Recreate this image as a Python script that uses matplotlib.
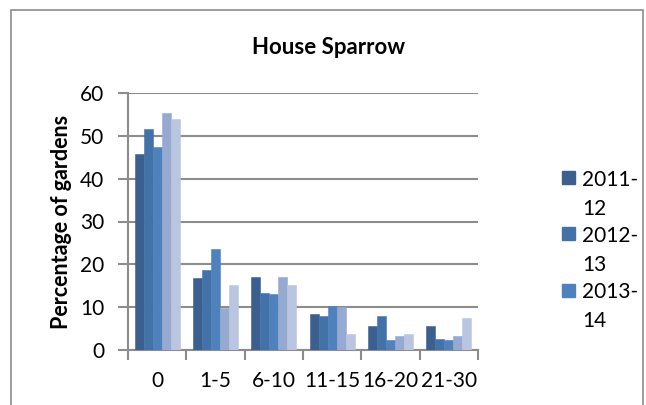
import matplotlib
matplotlib.use("Agg")
import matplotlib.pyplot as plt
from matplotlib.patches import Rectangle
import numpy as np

plt.rcParams['font.family'] = ['Lato', 'DejaVu Sans']

categories = ["0", "1-5", "6-10", "11-15", "16-20", "21-30"]
series_names = ["2011-12", "2012-13", "2013-14", "2014-15", "2015-16"]
s2011 = [45.7, 16.9, 17.0, 8.4, 5.5, 5.5]
s2012 = [51.5, 18.7, 13.4, 7.9, 7.9, 2.6]
s2013 = [47.4, 23.5, 13.0, 10.3, 2.4, 2.4]
s2014 = [55.3, 9.9, 17.0, 10.0, 3.2, 3.2]
s2015 = [53.9, 15.2, 15.2, 3.7, 3.7, 7.5]
values = [s2011, s2012, s2013, s2014, s2015]
colors = ["#3B5F8E", "#4372A8", "#4F81BD", "#95A9D1", "#BAC6E0"]
legend_lines = [["2011-", "12"], ["2012-", "13"], ["2013-", "14"]]

W, H = 646, 405
fig = plt.figure(figsize=(W / 100, H / 100), dpi=100)


def fx(px):
    return px / W


def fy(py):
    return 1 - py / H


# outer chart border (bottom edge is outside the image)
fig.add_artist(Rectangle((fx(11), fy(420)), fx(643 - 11), (420 - 10) / H,
                         transform=fig.transFigure, fill=False,
                         edgecolor="#8C8C8C", linewidth=1.2))

ax = fig.add_axes([fx(128), fy(350), fx(478 - 128), (350 - 93) / H])
x = np.arange(len(categories))
bw = 0.155
for i, (vals, c) in enumerate(zip(values, colors)):
    ax.bar(x + (i - 2) * bw, vals, bw, color=c, edgecolor=c, linewidth=0.4,
           zorder=3, label=series_names[i])

ax.set_xlim(-0.5, len(categories) - 0.5)
ax.set_ylim(0, 60)
ax.set_yticks(range(0, 61, 10))
ax.yaxis.grid(True, color="#8C8C8C", linewidth=1.5, zorder=0)
ax.set_axisbelow(True)
ax.set_xticks(x)
ax.set_xticklabels(categories, fontsize=15)
ax.set_xticks(np.arange(-0.5, len(categories)), minor=True)
ax.tick_params(axis="x", which="major", length=0, pad=15)
ax.tick_params(axis="x", which="minor", length=7, width=1.5, color="#8C8C8C")
ax.tick_params(axis="y", length=7, width=1.5, color="#8C8C8C", labelsize=15, pad=10)
for s in ["top", "right"]:
    ax.spines[s].set_visible(False)
for s in ["left", "bottom"]:
    ax.spines[s].set_color("#8C8C8C")
    ax.spines[s].set_linewidth(1.5)

fig.text(fx(62), fy(222), "Percentage of gardens", rotation=90, ha="center",
         va="center", fontsize=15.5, fontweight="bold")
fig.text(fx(329), fy(53.5), "House Sparrow", ha="center", va="baseline",
         fontsize=16, fontweight="bold")

# legend (only first three entries visible in reference)
for k, lines in enumerate(legend_lines):
    off = k * 56
    fig.add_artist(Rectangle((fx(562), fy(184.5 + off)), fx(13), 13 / H,
                             transform=fig.transFigure, color=colors[k]))
    fig.text(fx(582), fy(186.5 + off), lines[0], ha="left", va="baseline", fontsize=15)
    fig.text(fx(582), fy(215 + off), lines[1], ha="left", va="baseline", fontsize=15)

fig.savefig("out.png", dpi=100)
